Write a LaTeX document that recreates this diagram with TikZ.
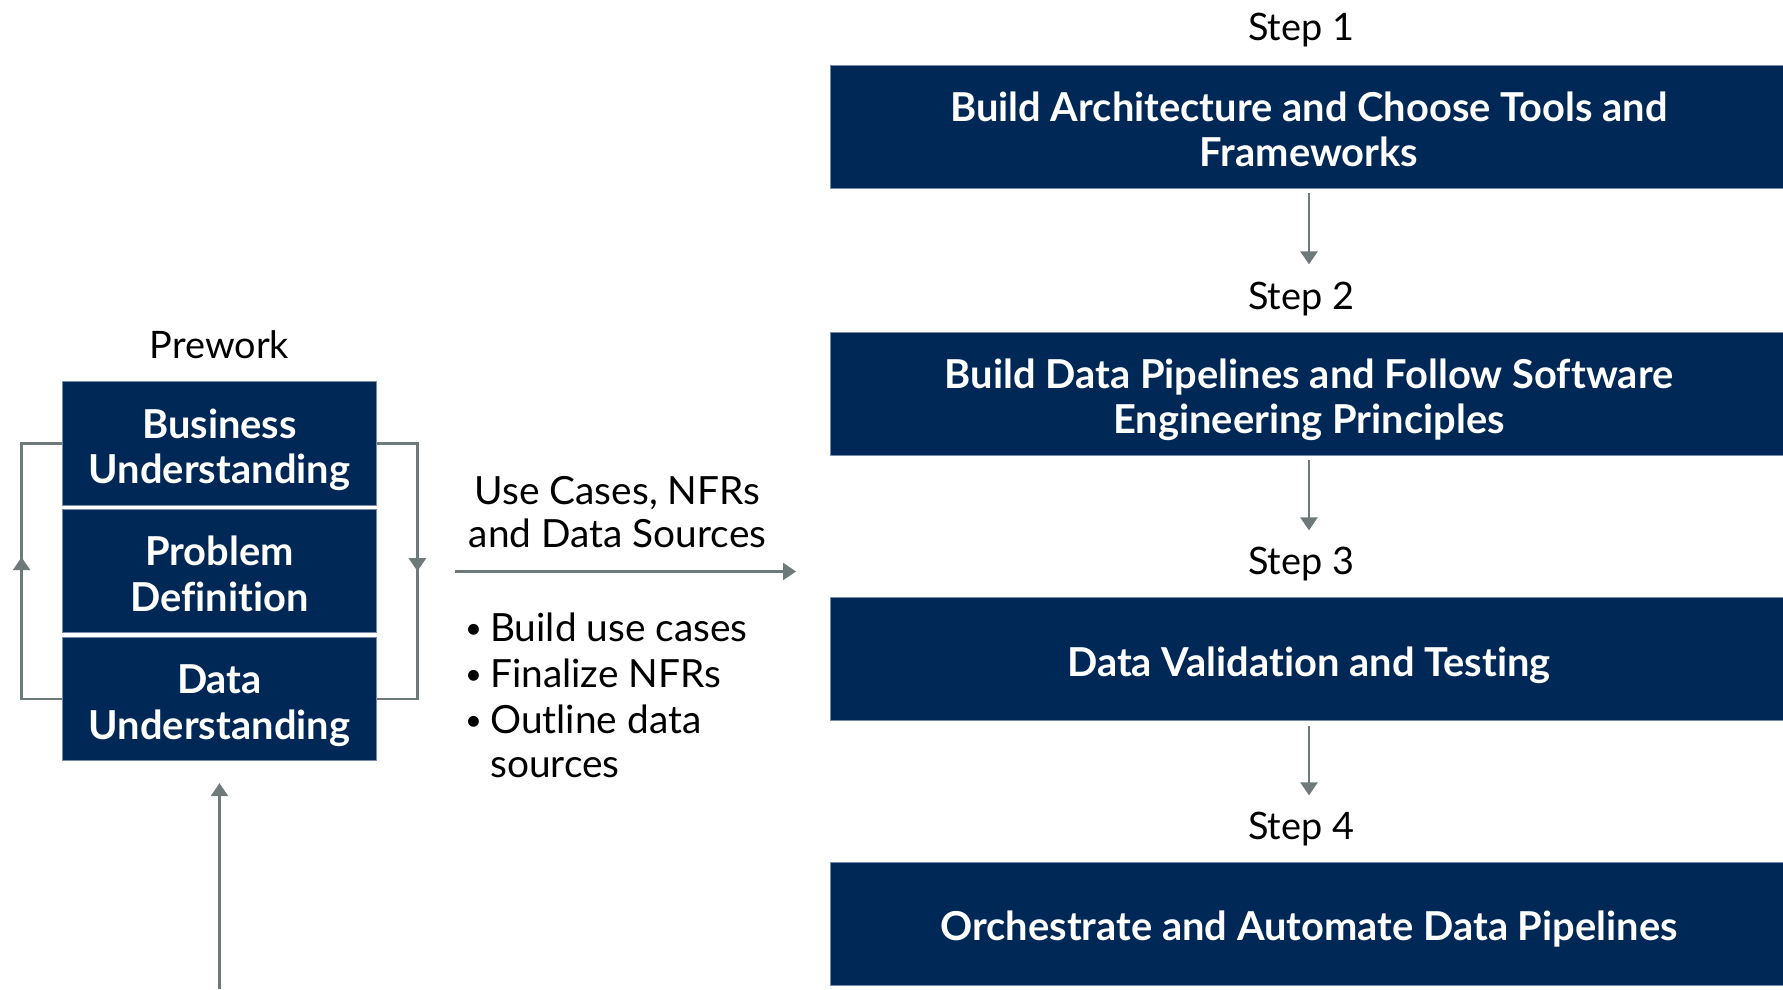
\documentclass[tikz,border=0pt]{standalone}
\usepackage{fontspec}
\setmainfont{Lato}[Ligatures=NoCommon]
\usetikzlibrary{arrows.meta,calc}
\definecolor{navy}{RGB}{0,40,86}
\definecolor{edge}{RGB}{110,122,122}
\definecolor{rim}{RGB}{120,140,170}
\newcommand{\smallbullet}{\makebox[19bp][l]{\hspace*{-6bp}\raisebox{3bp}{\scalebox{0.75}{•}}}}
% struts that fix the height of the first line and the depth of the last
\newcommand{\topstrut}{\rule{0pt}{44.8bp}}
\newcommand{\botstrut}{\rule[-10bp]{0pt}{10bp}}
\begin{document}
\begin{tikzpicture}[x=1bp,y=-1bp,
  box/.style={fill=navy, draw=rim, line width=0.8bp, text=white,
    font=\fontsize{40}{45.5}\selectfont\bfseries, align=center, inner sep=0pt},
  prebox/.style={box, minimum width=314bp, minimum height=123.5bp},
  stepbox/.style={box, minimum width=958bp, minimum height=123bp},
  steptag/.style={font=\fontsize{38}{44}\selectfont, anchor=base, inner sep=0pt},
  plaintext/.style={font=\fontsize{39}{44}\selectfont, inner sep=0pt},
  bulletline/.style={plaintext, anchor=base west},
  link/.style={draw=edge, line width=2.5bp},
  arr/.style={link, -{Triangle[width=17bp,length=13bp]}}]
\useasboundingbox (0,0) rectangle (1783,989);

% Prework stack
\node[steptag] (pw) at (219.5,358) {Prework};
\node[prebox] (bu) at (219.5,443.4) {\topstrut Business\\Understanding\botstrut};
\node[prebox] (pd) at (219.5,571) {\topstrut Problem\\Definition\botstrut};
\node[prebox] (du) at (219.5,699) {\topstrut Data\\Understanding\botstrut};

% feedback loop around the stack
\draw[link] (du.west) -- ++(-40.5,0) coordinate (lb) |- (bu.west);
\draw[arr] (lb) -- ($(lb)!0.5!(lb|-bu.west)+(0,-14)$);
\draw[link] (bu.east) -- ++(40.5,0) coordinate (rt) |- (du.east);
\draw[arr] (rt) -- ($(rt)!0.5!(rt|-du.east)$);

% input arrow from below
\coordinate (bot) at (219.5,989);
\draw[arr] (bot) -- ([yshift=-22bp]du.south);

% hand-over to the steps
\node[plaintext, align=center] (uc) at (617.5,512) {Use Cases, NFRs\\and Data Sources};
\coordinate (hs) at (455,571.5);
\coordinate (he) at (796,571.5);
\draw[arr] (hs) -- (he);

\node[bulletline] (l1) at (471,641) {\smallbullet Build use cases};
\node[bulletline] (l2) at (471,687) {\smallbullet Finalize NFRs};
\node[bulletline] (l3) at (471,733) {\smallbullet Outline data};
\node[bulletline] (l4) at (471,777) {\hspace*{19bp}sources};

% steps
\node[steptag] (t1) at (1301,40) {Step 1};
\node[stepbox] (s1) at (1309,126.5) {\topstrut Build Architecture and Choose Tools and\\Frameworks\botstrut};
\node[steptag] (t2) at (1301,309) {Step 2};
\node[stepbox] (s2) at (1309,393.5) {\topstrut Build Data Pipelines and Follow Software\\Engineering Principles\botstrut};
\node[steptag] (t3) at (1301,574) {Step 3};
\node[stepbox] (s3) at (1309,659) {\topstrut Data Validation and Testing\botstrut};
\node[steptag] (t4) at (1301,839) {Step 4};
\node[stepbox] (s4) at (1309,923.5) {\topstrut Orchestrate and Automate Data Pipelines\botstrut};

\draw[arr] ([yshift=-5bp]s1.south) -- ([yshift=17bp]s1.south |- t2.north);
\draw[arr] ([yshift=-5bp]s2.south) -- ([yshift=16bp]s2.south |- t3.north);
\draw[arr] ([yshift=-5bp]s3.south) -- ([yshift=16bp]s3.south |- t4.north);
\end{tikzpicture}
\end{document}
